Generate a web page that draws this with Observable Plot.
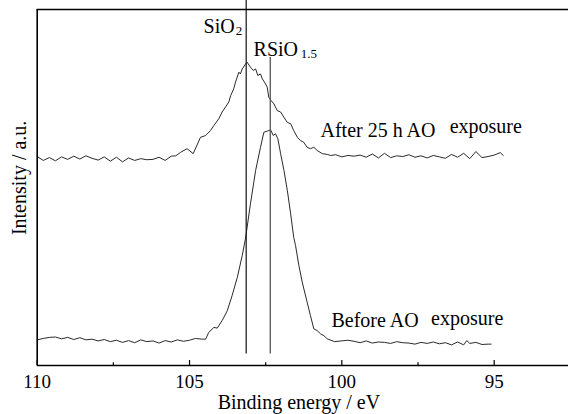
<!DOCTYPE html>
<html><head><meta charset="utf-8">
<script src="https://cdn.jsdelivr.net/npm/d3@7"></script>
<script src="https://cdn.jsdelivr.net/npm/@observablehq/plot@0.6"></script>
<style>body{margin:0;background:#fff} svg{display:block}</style>
</head><body><div id="chart"></div>
<script>
// After 25 h AO exposure
const afterEnergy = [110.0,109.8,109.6,109.4,109.2,109.0,108.8,108.6,108.4,108.2,108.0,107.8,107.6,107.4,107.2,107.0,106.8,106.6,106.4,106.2,106.0,105.8,105.6,105.45,
105.29,105.08,104.88,104.64,104.47,104.31,104.20,104.04,103.93,103.82,103.71,103.65,103.55,103.49,103.38,103.33,103.27,103.16,103.11,
103.00,102.91,102.83,102.76,102.67,102.61,102.54,102.45,102.40,102.32,102.23,102.12,102.01,101.90,101.79,101.68,101.58,101.46,101.36,101.25,101.14,101.03,100.92,100.81,100.64,100.48,100.37,
100.2,100.0,99.8,99.6,99.4,99.2,99.0,98.8,98.6,98.4,98.2,98.0,97.8,97.6,97.4,97.2,97.0,96.8,96.6,96.4,96.2,96.0,95.8,95.6,95.4,95.2,95.0,94.8,94.7];
const afterIntensity = [58.7,57.6,58.4,57.5,58.6,57.9,58.8,58.0,58.9,58.2,57.7,58.6,57.4,58.5,57.2,58.3,57.6,58.1,57.8,57.9,58.5,57.6,58.8,58.9,
59.9,60.9,59.5,64.1,64.6,66.0,67.4,69.3,71.2,72.6,74.0,75.8,77.7,79.6,82.4,81.9,83.3,84.7,85.2,
83.8,82.9,83.3,81.5,81.9,80.5,79.6,78.2,75.4,74.4,73.5,71.6,71.2,69.7,68.3,67.9,66.0,64.1,63.2,62.7,61.3,60.9,61.3,60.4,59.5,59.3,59.0,
59.2,58.6,59.0,58.8,59.1,58.5,59.4,58.3,59.6,58.4,58.9,58.7,59.2,58.5,58.9,58.3,59.0,58.6,58.2,59.3,58.5,59.6,58.1,60.1,58.4,58.7,59.1,59.8,59.0];

// Before AO exposure
const beforeEnergy = [110.0,109.8,109.6,109.4,109.2,109.0,108.8,108.6,108.4,108.2,108.0,107.8,107.6,107.4,107.2,107.0,106.8,106.6,106.4,106.2,106.0,105.8,105.6,105.4,105.2,105.0,104.8,104.6,
104.47,104.37,104.20,104.09,103.93,103.76,103.60,103.43,103.27,103.16,103.00,102.83,102.67,102.56,102.40,102.34,102.25,102.18,102.10,102.01,101.90,101.79,101.68,101.58,101.52,101.41,101.30,101.14,101.03,100.92,100.81,100.70,100.59,100.48,100.24,100.02,99.8,
99.6,99.4,99.2,99.0,98.8,98.6,98.4,98.2,98.0,97.8,97.6,97.4,97.2,97.0,96.8,96.6,96.4,96.2,96.0,95.9,95.8,95.6,95.4,95.2,95.1];
const beforeIntensity = [7.2,7.6,7.9,8.0,7.5,7.9,7.3,7.8,7.2,7.4,6.9,7.3,6.7,7.1,6.5,7.0,6.4,7.2,6.7,6.9,6.3,7.0,6.6,7.2,6.8,7.1,7.6,7.4,
7.4,9.3,10.7,10.5,12.6,15.4,19.7,24.8,30.9,35.8,45.4,54.8,61.3,65.5,66.0,66.2,64.6,65.1,63.7,59.5,54.8,49.2,42.6,36.0,33.7,28.1,23.4,17.8,14.0,10.3,9.8,8.9,8.4,7.5,6.7,6.9,7.1,
6.8,6.4,6.9,6.3,6.6,6.5,6.2,6.7,6.4,6.3,6.0,6.5,6.2,6.6,6.1,6.4,5.8,6.6,5.8,7.0,6.2,6.5,5.9,6.0,6.0];

// Reference lines
const peakNames = ["SiO", "RSiO"];
const peakSubs = ["2", "1.5"];
const peakEnergies = [103.14, 102.35];
const peakTop = [102.5, 86.5];
const peakBottom = [3.2, 3.2];

// Axis
const majorTicks = [110, 105, 100, 95];
const minorTicks = [107.5, 102.5, 97.5];
const xDomain = [110, 92.56];
const yDomain = [0, 100];

// Curve labels
const curveLabelMain = ["After 25 h AO", "Before AO"];
const curveLabelMainX = [100.70, 100.34];
const curveLabelMainY = [64.3, 10.7];
const curveLabelTail = ["exposure", "exposure"];
const curveLabelTailX = [96.46, 97.07];
const curveLabelTailY = [65.2, 11.5];

const afterData = afterEnergy.map((e, i) => ({e, v: afterIntensity[i]}));
const beforeData = beforeEnergy.map((e, i) => ({e, v: beforeIntensity[i]}));
const peaks = peakEnergies.map((e, i) => ({e, name: peakNames[i], sub: peakSubs[i], top: peakTop[i], bottom: peakBottom[i]}));
const mains = curveLabelMain.map((t, i) => ({t, x: curveLabelMainX[i], y: curveLabelMainY[i]}));
const tails = curveLabelTail.map((t, i) => ({t, x: curveLabelTailX[i], y: curveLabelTailY[i]}));

const font = "Liberation Serif";
const T = {fontFamily: font, fill: "#000", fontSize: 20};

const plot = Plot.plot({
  width: 568,
  height: 414,
  marginLeft: 36.7,
  marginRight: 0,
  marginTop: 9,
  marginBottom: 49,
  style: {background: "#fff", overflow: "visible"},
  x: {domain: xDomain, axis: null},
  y: {domain: yDomain, axis: null},
  marks: [
    Plot.line(afterData, {x: "e", y: "v", stroke: "#2a2a2a", strokeWidth: 1}),
    Plot.line(beforeData, {x: "e", y: "v", stroke: "#2a2a2a", strokeWidth: 1}),
    Plot.ruleX([peaks[0]], {x: "e", y1: "bottom", y2: "top", stroke: "#111", strokeWidth: 1.2}),
    Plot.ruleX([peaks[1]], {x: "e", y1: "bottom", y2: "top", stroke: "#555", strokeWidth: 1.3}),
    Plot.text([peaks[0]], {...T, x: "e", text: "name", frameAnchor: "top", dy: 23, dx: -11.5, textAnchor: "end", lineAnchor: "bottom"}),
    Plot.text([peaks[0]], {...T, x: "e", text: "sub", frameAnchor: "top", dy: 25, dx: -10.5, textAnchor: "start", lineAnchor: "bottom", fontSize: 13}),
    Plot.text([peaks[1]], {...T, x: "e", text: "name", frameAnchor: "top", dy: 46, dx: -16.7, textAnchor: "start", lineAnchor: "bottom"}),
    Plot.text([peaks[1]], {...T, x: "e", text: "sub", frameAnchor: "top", dy: 48, dx: 30.5, textAnchor: "start", lineAnchor: "bottom", fontSize: 13}),
    Plot.text(mains, {...T, x: "x", y: "y", text: "t", textAnchor: "start", lineAnchor: "bottom"}),
    Plot.text(tails, {...T, x: "x", y: "y", text: "t", textAnchor: "start", lineAnchor: "bottom"}),
    // frame
    Plot.ruleY([yDomain[1]], {stroke: "#000", strokeWidth: 1.6}),
    Plot.ruleY([yDomain[0]], {stroke: "#000", strokeWidth: 1.6}),
    Plot.ruleX([xDomain[0]], {stroke: "#000", strokeWidth: 1.6}),
    // inward ticks
    Plot.ruleX(majorTicks, {x: d => d, y1: 0, y2: 1.4, stroke: "#000", strokeWidth: 1.2}),
    Plot.ruleX(minorTicks, {x: d => d, y1: 0, y2: 0.8, stroke: "#000", strokeWidth: 1.2}),
    Plot.text(majorTicks, {...T, x: d => d, y: 0, text: d => String(d), dy: 22, lineAnchor: "bottom", textAnchor: "middle", fontSize: 19}),
    Plot.text(["Binding energy / eV"], {...T, x: 101.41, y: 0, text: d => d, dy: 43, lineAnchor: "bottom", textAnchor: "middle"}),
    Plot.text(["Intensity / a.u."], {...T, frameAnchor: "left", y: 52.7, text: d => d, dx: -11.7, rotate: -90, lineAnchor: "bottom", textAnchor: "middle"})
  ]
});
document.getElementById("chart").appendChild(plot);
</script>
</body></html>
